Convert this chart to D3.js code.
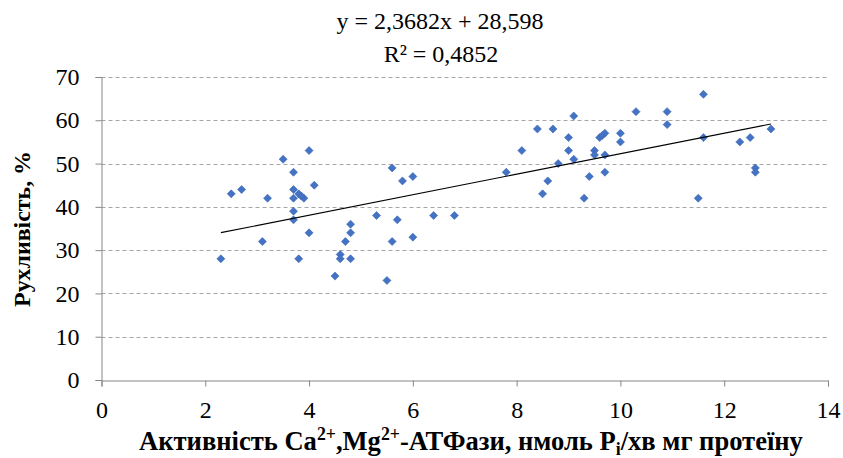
<!DOCTYPE html>
<html>
<head>
<meta charset="utf-8">
<script src="https://cdn.jsdelivr.net/npm/d3@7"></script>
<style>
  body { margin: 0; background: #fff; }
</style>
</head>
<body>
<div id="root"></div>
<script>
// activity values (x) and motility values (y)
const activity = [
  2.3, 2.5, 2.7, 3.1, 3.2, 3.5, 3.7, 3.7, 3.8, 3.7, 3.9, 3.7, 3.7, 4.0, 4.1, 4.0,
  3.8, 4.5, 4.6, 4.6, 4.7, 4.8, 4.8, 4.8, 5.3, 5.5, 5.6, 5.6, 5.7, 5.8, 6.0, 6.0,
  6.4, 6.8, 7.8, 8.1, 8.4, 8.5, 8.6, 8.7, 8.8, 9.0, 9.0, 9.1, 9.1, 9.3, 9.4, 9.5,
  9.5, 9.6, 9.7, 9.65, 9.7, 9.7, 10.0, 10.0, 10.3, 10.9, 10.9, 11.6, 11.6, 11.5,
  12.3, 12.5, 12.6, 12.6, 12.9, 3.85
];
const motility = [
  28, 43, 44, 32, 42, 51, 48, 44, 43, 42, 42, 39, 37, 53, 45, 34,
  28, 24, 29, 28, 32, 28, 34, 36, 38, 23, 49, 32, 37, 46, 47, 33,
  38, 38, 48, 53, 58, 43, 46, 58, 50, 56, 53, 61, 51, 42, 47, 53,
  52, 56, 57, 56.5, 52, 48, 57, 55, 62, 62, 59, 66, 56, 42,
  55, 56, 49, 48, 58, 42.5
];
const xTicks = [0, 2, 4, 6, 8, 10, 12, 14];
const yTicks = [0, 10, 20, 30, 40, 50, 60, 70];
const slope = 2.3682;
const intercept = 28.598;
const equationText = 'y = 2,3682x + 28,598';
const r2Text = 'R² = 0,4852';

const config = {
  width: 843,
  height: 458,
  left: 101.5,
  right: 828,
  top: 77,
  bottom: 380,
  font: '"Liberation Serif"'
};

const points = activity.map((x, i) => [x, motility[i]]);

const chart = d3.select('#root')
  .append('svg:svg')
  .attr('width', config.width)
  .attr('height', config.height);

const x = d3.scaleLinear().domain([0, 14]).range([config.left, config.right]);
const y = d3.scaleLinear().domain([0, 70]).range([config.bottom, config.top]);

// fit a text to a given length by scaling its font size
function fit(sel, target) {
  const len = sel.node().getComputedTextLength();
  const size = parseFloat(sel.style('font-size'));
  sel.style('font-size', (size * target / len).toFixed(2) + 'px');
}

// Gridlines
chart.append('g')
  .selectAll('line')
  .data(yTicks.filter(t => t > 0))
  .enter()
    .append('line')
    .attr('x1', config.left)
    .attr('x2', config.right)
    .attr('y1', d => Math.round(y(d)) + 0.5)
    .attr('y2', d => Math.round(y(d)) + 0.5)
    .attr('stroke', '#a6a6a6')
    .attr('stroke-width', 1)
    .attr('stroke-dasharray', '4,3');

// Axes
const xAxis = chart.append('g')
  .attr('transform', `translate(0,${config.bottom + 0.5})`)
  .call(d3.axisBottom(x).tickValues(xTicks).tickSize(6).tickPadding(14));
const yAxis = chart.append('g')
  .attr('transform', `translate(${config.left},0)`)
  .call(d3.axisLeft(y).tickValues(yTicks).tickSize(6).tickPadding(16));

[xAxis, yAxis].forEach(a => {
  a.attr('font-family', null).attr('font-size', null);
  a.select('.domain').attr('stroke', '#868686');
  a.selectAll('.tick line').attr('stroke', '#868686');
  a.selectAll('.tick text')
    .style('font-family', config.font)
    .style('font-size', '24px')
    .attr('fill', '#000');
});

// Points
chart.append('g')
  .selectAll('path')
  .data(points)
  .enter()
    .append('path')
    .attr('d', d3.symbol(d3.symbolSquare, 32)())
    .attr('transform', d => `translate(${x(d[0])},${y(d[1])}) rotate(45)`)
    .attr('fill', '#4472c4')
    .attr('stroke', '#3d69b5')
    .attr('stroke-width', 0.6);

// Trend line
const xMin = d3.min(activity), xMax = d3.max(activity);
chart.append('path')
  .datum([xMin, xMax].map(v => [x(v), y(slope * v + intercept)]))
  .attr('d', d3.line())
  .attr('fill', 'none')
  .attr('stroke', '#000')
  .attr('stroke-width', 1.1);

// Equation
chart.append('text')
  .attr('x', 440).attr('y', 29)
  .attr('text-anchor', 'middle')
  .style('font-family', config.font)
  .style('font-size', '24px')
  .text(equationText);
chart.append('text')
  .attr('x', 441).attr('y', 62)
  .attr('text-anchor', 'middle')
  .style('font-family', config.font)
  .style('font-size', '24px')
  .text(r2Text);

// Y axis title
const yt = chart.append('text')
  .attr('transform', 'translate(30,229) rotate(-90)')
  .attr('text-anchor', 'middle')
  .style('font-family', config.font)
  .style('font-size', '24px')
  .style('font-weight', 'bold')
  .text('Рухливість, %');
fit(yt, 156);

// X axis title
const xt = chart.append('text')
  .attr('x', 471).attr('y', 450)
  .attr('text-anchor', 'middle')
  .style('font-family', config.font)
  .style('font-size', '24px')
  .style('font-weight', 'bold');
xt.append('tspan').text('Активність Ca');
xt.append('tspan').style('font-size', '0.67em').attr('dy', '-0.55em').text('2+');
xt.append('tspan').attr('dy', '0.37em').text(',Mg');
xt.append('tspan').style('font-size', '0.67em').attr('dy', '-0.55em').text('2+');
xt.append('tspan').attr('dy', '0.37em').text('-АТФази, нмоль P');
xt.append('tspan').style('font-size', '0.67em').attr('dy', '0.3em').text('i');
xt.append('tspan').attr('dy', '-0.2em').text('/хв мг протеїну');
fit(xt, 664);
</script>
</body>
</html>
